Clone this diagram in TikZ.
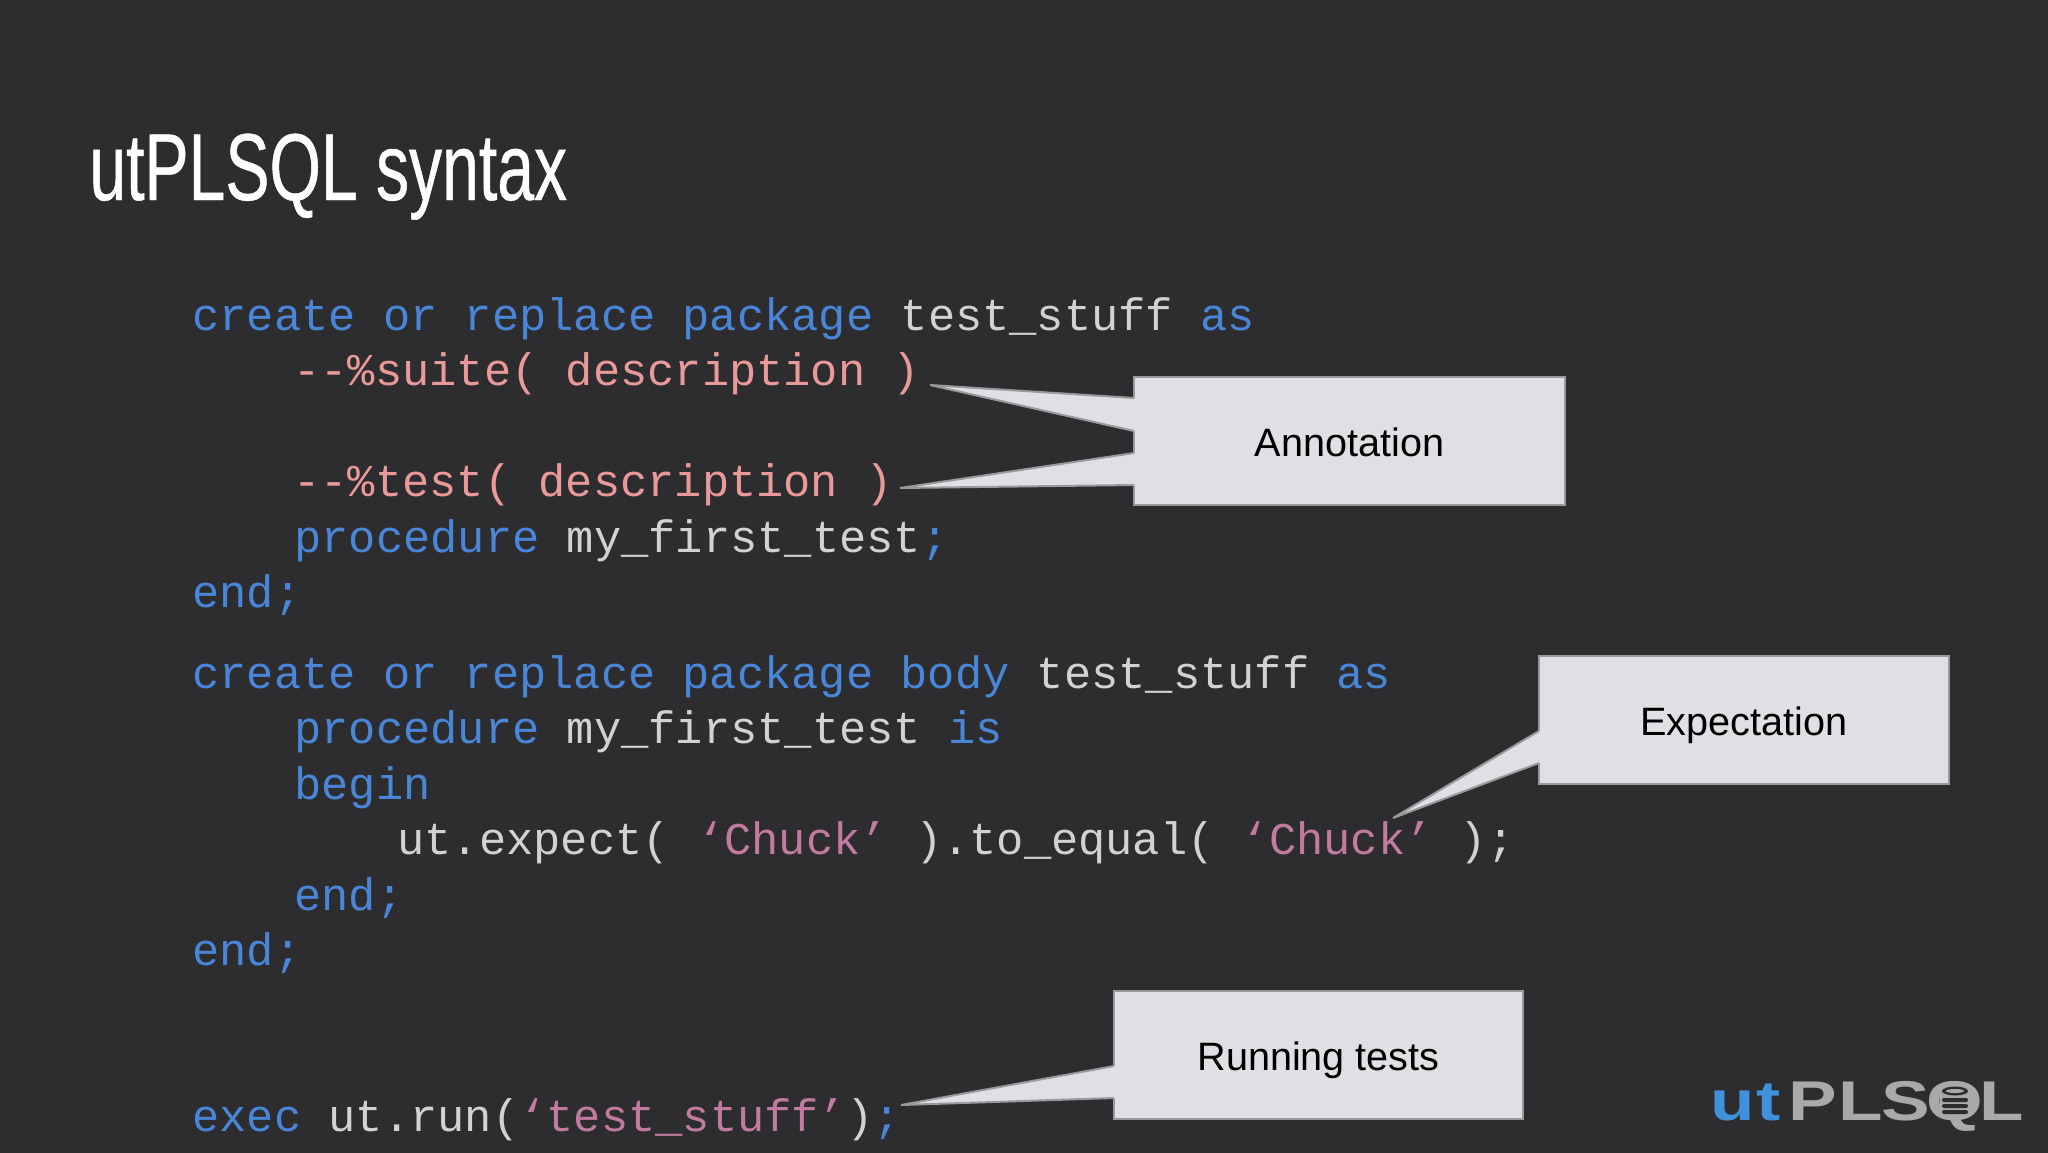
\documentclass[tikz,border=0pt]{standalone}
\usepackage{fontspec}
\usetikzlibrary{positioning}
\setmainfont{Liberation Sans}
\newfontfamily\codefam{Liberation Mono}
\newfontfamily\titlefam[FakeStretch=0.696,FakeBold=0.5]{Liberation Sans}
\newfontfamily\logofam[FakeStretch=1.3]{Liberation Sans}
\definecolor{slidebg}{HTML}{2D2D2F}
\definecolor{kwblue}{HTML}{4A86D8}
\definecolor{plaintxt}{HTML}{D2D2D2}
\definecolor{annotpink}{HTML}{EA9999}
\definecolor{litpink}{HTML}{C27BA0}
\definecolor{boxfill}{HTML}{E0DFE3}
\definecolor{boxline}{HTML}{9A9A9C}
\definecolor{logoblue}{HTML}{4090DC}
\definecolor{logogrey}{HTML}{A9A9AB}
\newcommand{\kwd}[1]{\textcolor{kwblue}{#1}}
\newcommand{\annot}[1]{\textcolor{annotpink}{#1}}
\newcommand{\lit}[1]{\textcolor{litpink}{#1}}
\newcommand{\calltail}[3]{%
  \fill[boxfill] (#1) -- (#2) -- ([xshift=1.5pt]#2) -- ([xshift=1.5pt]#3) -- (#3) -- cycle;
  \draw[tailedge] (#2) -- (#1) -- (#3);}
\tikzset{
  codeline/.style={anchor=base west, inner sep=0pt, text=plaintxt, font=\codefam\fontsize{22.7}{28}\selectfont},
  labelbox/.style={draw=boxline, fill=boxfill, line width=1pt, inner sep=0pt, text=black, text height=15.5pt, text depth=0pt, font=\fontsize{19.8}{24}\selectfont},
  tailedge/.style={draw=boxline, line width=1pt, line join=miter},
  logotxt/.style={inner sep=0pt, anchor=base, text=logogrey, font=\logofam\bfseries\fontsize{28}{30}\selectfont}
}
\begin{document}
\begin{tikzpicture}[x=0.5pt, y=-0.5pt]
        \useasboundingbox (0,0) rectangle (2048,1152);
        \fill[slidebg] (-8,-8) rectangle (2056,1160);

        \node[inner sep=0pt, anchor=base west, text=white, font=\titlefam\fontsize{47.5}{50}\selectfont] (title) at (89,200) {utPLSQL syntax};

        \node[codeline] (l1) at (192,330) {\kwd{create or replace package} test\_stuff \kwd{as}};
        \node[codeline] (l2) at (293,385) {\annot{--\%suite( description )}};
        \node[codeline] (l3) at (293,496) {\annot{--\%test( description )}};
        \node[codeline] (l4) at (294,552) {\kwd{procedure} my\_first\_test\kwd{;}};
        \node[codeline] (l5) at (192,607) {\kwd{end;}};
        \node[codeline] (l6) at (192,688) {\kwd{create or replace package body} test\_stuff \kwd{as}};
        \node[codeline] (l7) at (294,743) {\kwd{procedure} my\_first\_test \kwd{is}};
        \node[codeline] (l8) at (294,799) {\kwd{begin}};
        \node[codeline] (l9) at (397,854) {ut.expect( \lit{‘Chuck’} ).to\_equal( \lit{‘Chuck’} );};
        \node[codeline] (l10) at (294,910) {\kwd{end;}};
        \node[codeline] (l11) at (192,965) {\kwd{end;}};
        \node[codeline] (l12) at (192,1131) {\kwd{exec} ut.run(\lit{‘test\_stuff’})\kwd{;}};

        \node[labelbox, minimum width=215.5pt, minimum height=64pt] (annotation) at (1349.5,441) {Annotation};
        \node[labelbox, minimum width=205pt, minimum height=64pt] (expectation) at (1744,720) {Expectation};
        \node[labelbox, minimum width=204.5pt, minimum height=64pt] (running) at (1318.5,1055) {Running tests};

        % callout tails, tip first
        \coordinate (tipa) at (930,385);
        \coordinate (tipb) at (900,488);
        \coordinate (tipc) at (1393,818);
        \coordinate (tipd) at (901,1105);
        \coordinate (basea1) at (1134,398);
        \coordinate (basea2) at (1134,431);
        \coordinate (baseb1) at (1134,453);
        \coordinate (baseb2) at (1134,485);
        \coordinate (basec1) at (1539,731);
        \coordinate (basec2) at (1539,763);
        \coordinate (based1) at (1114,1066);
        \coordinate (based2) at (1114,1098);
        \calltail{tipa}{basea1}{basea2}
        \calltail{tipb}{baseb1}{baseb2}
        \calltail{tipc}{basec1}{basec2}
        \calltail{tipd}{based1}{based2}

        % logo, one node per letter group
        \node[logotxt, text=logoblue] (logou) at (1733,1120) {u};
        \node[logotxt, text=logoblue] (logot) at (1769,1120) {t};
        \node[logotxt] (logop) at (1813,1120) {P};
        \node[logotxt] (logol) at (1861,1120) {L};
        \node[logotxt] (logos) at (1906,1120) {S};
        \node[logotxt] (logoq) at (1955,1120) {Q};
        \node[logotxt] (logoe) at (2002,1120) {L};
        % little stack inside the Q
        \fill[logogrey, rounded corners=3pt] (1940,1086) rectangle (1970,1115);
        \fill[slidebg] (1955,1091) ellipse [x radius=13, y radius=4.5];
        \fill[logogrey] (1955,1091) ellipse [x radius=9, y radius=2];
        \foreach \y in {1100,1106,1112} {
          \fill[slidebg, rounded corners=1pt] (1942,\y-2) rectangle (1968,\y+2);
        }
\end{tikzpicture}
\end{document}
